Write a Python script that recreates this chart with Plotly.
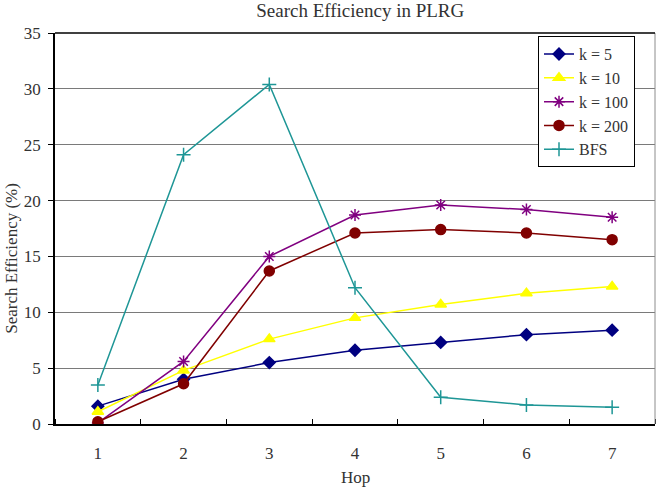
import plotly.graph_objects as go

hops = [1, 2, 3, 4, 5, 6, 7]
k5 = [1.6, 4.0, 5.5, 6.6, 7.3, 8.0, 8.4]
k10 = [1.1, 4.8, 7.6, 9.5, 10.7, 11.7, 12.3]
k100 = [0.1, 5.6, 15.0, 18.7, 19.6, 19.2, 18.5]
k200 = [0.2, 3.6, 13.7, 17.1, 17.4, 17.1, 16.5]
bfs = [3.5, 24.1, 30.4, 12.2, 2.4, 1.7, 1.5]
y_ticks = [0, 5, 10, 15, 20, 25, 30, 35]

series = [
    ("k = 5", k5, "#000080", "diamond", 9),
    ("k = 10", k10, "#FFFF00", "triangle-up", 10),
    ("k = 100", k100, "#800080", "asterisk-open", 10),
    ("k = 200", k200, "#800000", "circle", 10),
    ("BFS", bfs, "#1E9696", "cross-thin-open", 10),
]

fig = go.Figure()
for i, (name, vals, color, sym, size) in enumerate(series):
    fig.add_trace(go.Scatter(
        x=hops, y=vals, name=name, mode="lines+markers",
        line=dict(color=color, width=1.5),
        marker=dict(symbol=sym, size=size, color=color,
                    line=dict(color=color, width=1.5)),
        legendgroup="g%d" % i,
    ))

font = "Liberation Serif"
fig.update_layout(
    template="none",
    width=661, height=488,
    margin=dict(l=55, r=6, t=33, b=64, autoexpand=False),
    paper_bgcolor="white", plot_bgcolor="white",
    font=dict(family=font, size=16, color="black"),
    title=dict(text="Search Efficiency in PLRG", x=0.545, xanchor="center",
               y=0.979, yanchor="middle",
               font=dict(size=19, family=font, color="#333333")),
    showlegend=True,
    legend=dict(x=0.805, y=0.992, xanchor="left", yanchor="top",
                bordercolor="black", borderwidth=1, bgcolor="white",
                font=dict(size=16, family=font, color="#333333"),
                traceorder="grouped", tracegroupgap=0, itemwidth=30),
    xaxis=dict(range=[0.5, 7.5], tickvals=hops, ticktext=[str(h) for h in hops],
               ticks="", showgrid=False, zeroline=False, automargin=False,
               showline=True, linecolor="black", linewidth=1.5,
               tickfont=dict(family=font, size=17, color="#333333"),
               ticklabelstandoff=13,
               minor=dict(tick0=0.5, dtick=1, ticks="inside", ticklen=5,
                          tickcolor="black", showgrid=False)),
    yaxis=dict(range=[0, 35], tickvals=y_ticks, ticks="outside", ticklen=5,
               tickcolor="black", showgrid=True, gridcolor="#7a7a7a",
               gridwidth=1, zeroline=False, showline=True, linecolor="black",
               linewidth=1.5, ticklabelstandoff=4, automargin=False,
               tickfont=dict(family=font, size=17, color="#333333")),
    annotations=[
        dict(text="Search Efficiency (%)", xref="paper", yref="paper",
             x=-0.0717, y=0.425, xanchor="center", yanchor="middle",
             textangle=-90, showarrow=False,
             font=dict(size=17, family=font, color="#333333")),
        dict(text="Hop", xref="paper", yref="paper",
             x=0.5, y=-0.137, xanchor="center", yanchor="middle",
             showarrow=False,
             font=dict(size=17, family=font, color="#333333")),
    ],
)
fig.add_shape(type="line", xref="paper", yref="paper", x0=1, x1=1, y0=0, y1=1,
              line=dict(color="#8c8c8c", width=1))
fig.add_shape(type="line", xref="paper", yref="paper", x0=0, x1=1, y0=1, y1=1,
              line=dict(color="black", width=1.5))
fig.write_html("out.html")
